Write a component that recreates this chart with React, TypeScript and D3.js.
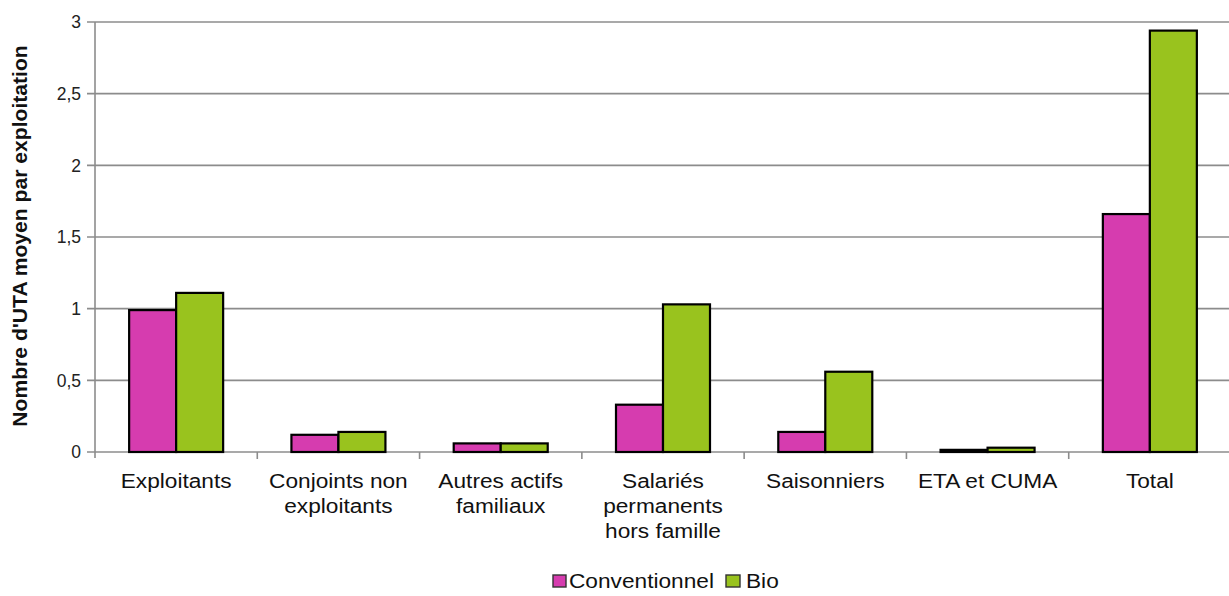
import React from "react";
import * as d3 from "d3";

const categories = [
  ["Exploitants"],
  ["Conjoints non", "exploitants"],
  ["Autres actifs", "familiaux"],
  ["Salariés", "permanents", "hors famille"],
  ["Saisonniers"],
  ["ETA et CUMA"],
  ["Total"],
];
const conventionnel = [0.99, 0.12, 0.06, 0.33, 0.14, 0.015, 1.66];
const bio = [1.11, 0.14, 0.06, 1.03, 0.56, 0.03, 2.94];
const yTicks = [0, 0.5, 1, 1.5, 2, 2.5, 3];
const seriesNames = ["Conventionnel", "Bio"];
const colors = ["#d63caf", "#99c31e"];

export default function App() {
  const W = 1229, H = 596;
  const left = 95, right = 1231, top = 22, bottom = 452;
  const x = d3.scaleBand<number>().domain(d3.range(categories.length)).range([left, right]).paddingInner(0).paddingOuter(0);
  const y = d3.scaleLinear().domain([0, 3]).range([bottom, top]);
  const bw = x.bandwidth();
  const barW = 47;
  const sx = 1.08;
  const font = "Arial, 'Liberation Sans', sans-serif";
  const fmt = (v: number) => String(v).replace(".", ",");
  const legY = 588;
  return (
    <svg width={W} height={H} style={{ position: "absolute", left: 0, top: 0, background: "#fff" }} fontFamily={font}>
      {yTicks.map((t) => (
        <g key={t}>
          <line x1={left - 8} x2={W} y1={y(t)} y2={y(t)} stroke="#8c8c8c" strokeWidth={1.6} />
          <text x={left - 14} y={y(t)} dy="0.36em" textAnchor="end" fontSize={17.5} fill="#222">{fmt(t)}</text>
        </g>
      ))}
      <line x1={left} x2={left} y1={top} y2={bottom + 6} stroke="#8c8c8c" strokeWidth={1.6} />
      {categories.map((_, i) => (
        <line key={i} x1={x(i)! + bw} x2={x(i)! + bw} y1={bottom} y2={bottom + 7} stroke="#8c8c8c" strokeWidth={1.6} />
      ))}
      {categories.map((lines, i) => {
        const cx = x(i)! + bw / 2;
        return (
          <g key={i}>
            <rect x={cx - barW} y={y(conventionnel[i])} width={barW} height={bottom - y(conventionnel[i])} fill={colors[0]} stroke="#000" strokeWidth={2.2} />
            <rect x={cx} y={y(bio[i])} width={barW} height={bottom - y(bio[i])} fill={colors[1]} stroke="#000" strokeWidth={2.2} />
            {lines.map((l, j) => (
              <text key={j} transform={`translate(${cx},${488 + j * 25}) scale(${sx},1)`} textAnchor="middle" fontSize={21} fill="#111">{l}</text>
            ))}
          </g>
        );
      })}
      <text transform={`translate(27,${236}) rotate(-90) scale(1.03,1)`} textAnchor="middle" fontSize={20.5} fontWeight="bold" fill="#111">Nombre d'UTA moyen par exploitation</text>
      <g>
        <rect x={553} y={legY - 13} width={13} height={12} fill={colors[0]} stroke="#333" strokeWidth={1.4} />
        <text transform={`translate(569,${legY}) scale(${sx},1)`} fontSize={21} fill="#111">{seriesNames[0]}</text>
        <rect x={726} y={legY - 13} width={14} height={12} fill={colors[1]} stroke="#333" strokeWidth={1.4} />
        <text transform={`translate(746,${legY}) scale(${sx},1)`} fontSize={21} fill="#111">{seriesNames[1]}</text>
      </g>
    </svg>
  );
}
